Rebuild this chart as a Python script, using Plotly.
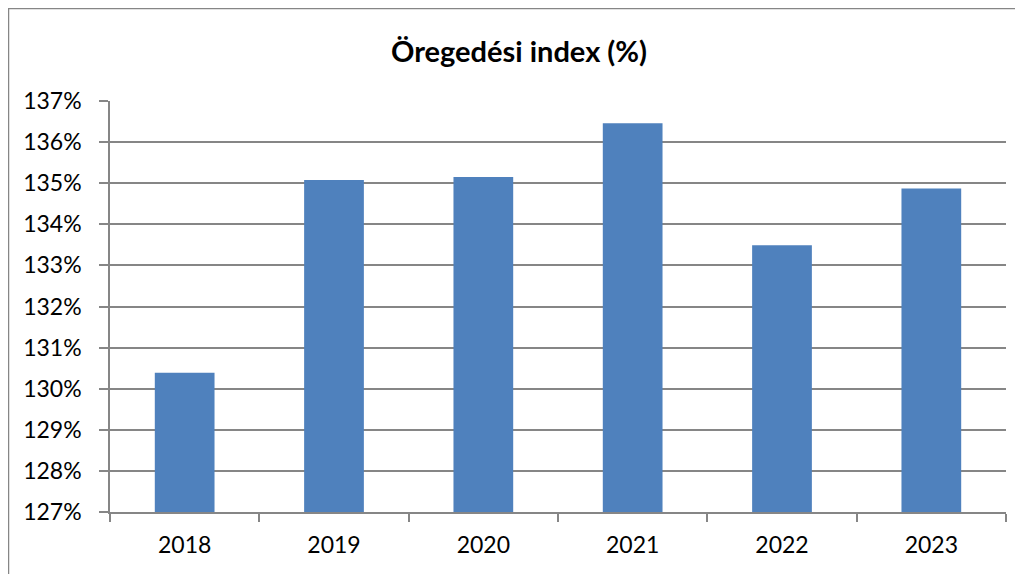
import plotly.graph_objects as go

years = ["2018", "2019", "2020", "2021", "2022", "2023"]
values = [130.39, 135.08, 135.15, 136.46, 133.49, 134.87]
y_ticks = [127, 128, 129, 130, 131, 132, 133, 134, 135, 136, 137]
y_labels = [f"{v}%" for v in y_ticks]

W, H = 1015, 566
L, R, T, B = 102, 17, 93, 62
pw, ph = W - L - R, H - T - B

fig = go.Figure(go.Bar(
    x=years, y=values, marker=dict(color="#4F81BD", line=dict(width=0)),
    width=0.4,
))

fig.update_layout(
    width=W, height=H,
    margin=dict(l=L, r=R, t=T, b=B),
    paper_bgcolor="white", plot_bgcolor="white",
    font=dict(family="Lato, Open Sans, sans-serif", color="black", size=23),
    title=dict(text="<b>Öregedési index (%)</b>", x=511 / W, xref="container", xanchor="center",
               y=1 - 44 / H, yref="container", yanchor="middle", font=dict(size=29)),
    showlegend=False,
    shapes=[dict(type="rect", xref="paper", yref="paper",
                 x0=(-L + 0.5) / pw, x1=(W - L + 40) / pw, y0=-1, y1=1 + (T - 0.5) / ph,
                 line=dict(color="#868686", width=1.5), layer="below")],
)
fig.update_xaxes(showline=True, linecolor="#868686", linewidth=1.5,
                 ticks="outside", ticklen=8, tickcolor="#868686", tickwidth=1.5,
                 tickson="boundaries", showgrid=False, ticklabelstandoff=12)
fig.update_yaxes(range=[127, 137], tickvals=y_ticks, ticktext=y_labels,
                 showline=True, linecolor="#868686", linewidth=1.5,
                 ticks="outside", ticklen=9, tickcolor="#868686", tickwidth=1.5,
                 showgrid=True, gridcolor="#868686", gridwidth=1.5, zeroline=False,
                 ticklabelstandoff=13)
fig.write_html("out.html")
